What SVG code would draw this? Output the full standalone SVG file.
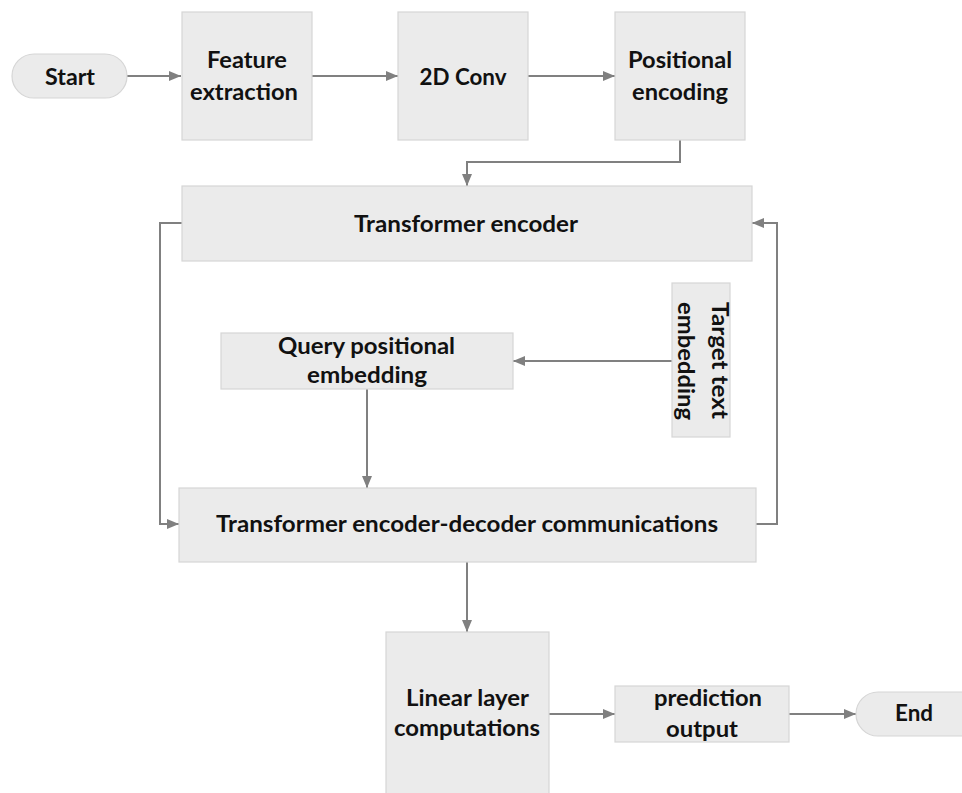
<svg xmlns="http://www.w3.org/2000/svg" width="962" height="793" viewBox="0 0 962 793">
<defs>
<style>
.box{fill:#ebebeb;stroke:#d6d6d6;stroke-width:1.2}
.t{font-family:Lato,"Open Sans","Liberation Sans",sans-serif;font-weight:bold;font-size:23px;fill:#111;text-anchor:middle}
.c{fill:none;stroke:#808080;stroke-width:2}
</style>
<marker id="ah" markerUnits="userSpaceOnUse" markerWidth="12" markerHeight="10" refX="12" refY="5" orient="auto">
<path d="M0,0 L12,5 L0,10 z" fill="#808080"/>
</marker>
</defs>
<rect width="962" height="793" fill="#ffffff"/>
<g id="connectors">
<path class="c" d="M127,76 H181" marker-end="url(#ah)"/>
<path class="c" d="M312,76 H398" marker-end="url(#ah)"/>
<path class="c" d="M528,76 H615" marker-end="url(#ah)"/>
<path class="c" d="M680,140 V162 H467 V186" marker-end="url(#ah)"/>
<path class="c" d="M182,223 H160 V524 H179" marker-end="url(#ah)"/>
<path class="c" d="M756,524 H777 V223 H752" marker-end="url(#ah)"/>
<path class="c" d="M672,361 H513" marker-end="url(#ah)"/>
<path class="c" d="M367,389 V488" marker-end="url(#ah)"/>
<path class="c" d="M467,562 V632" marker-end="url(#ah)"/>
<path class="c" d="M549,714 H615" marker-end="url(#ah)"/>
<path class="c" d="M789,714 H856" marker-end="url(#ah)"/>
</g>
<g id="start">
<rect class="box" x="12" y="54" width="115" height="44" rx="22"/>
<text class="t" x="70" y="85" textLength="50" lengthAdjust="spacingAndGlyphs">Start</text>
</g>
<g id="feature">
<rect class="box" x="182" y="12" width="130" height="128"/>
<text class="t" x="247" y="68" textLength="80" lengthAdjust="spacingAndGlyphs">Feature</text>
<text class="t" x="244" y="100" textLength="108" lengthAdjust="spacingAndGlyphs">extraction</text>
</g>
<g id="conv">
<rect class="box" x="398" y="12" width="130" height="128"/>
<text class="t" x="463" y="85" textLength="87" lengthAdjust="spacingAndGlyphs">2D Conv</text>
</g>
<g id="posenc">
<rect class="box" x="615" y="12" width="130" height="128"/>
<text class="t" x="680" y="68" textLength="104" lengthAdjust="spacingAndGlyphs">Positional</text>
<text class="t" x="680" y="100" textLength="96" lengthAdjust="spacingAndGlyphs">encoding</text>
</g>
<g id="encoder">
<rect class="box" x="182" y="186" width="570" height="75"/>
<text class="t" x="466" y="232" textLength="224" lengthAdjust="spacingAndGlyphs">Transformer encoder</text>
</g>
<g id="query">
<rect class="box" x="221" y="333" width="292" height="56"/>
<text class="t" x="366.5" y="354" textLength="177" lengthAdjust="spacingAndGlyphs">Query positional</text>
<text class="t" x="367" y="383" textLength="120" lengthAdjust="spacingAndGlyphs">embedding</text>
</g>
<g id="target">
<rect class="box" x="672" y="283" width="58" height="154"/>
<text class="t" transform="translate(712,360.5) rotate(90)" x="0" y="0" textLength="117" lengthAdjust="spacingAndGlyphs">Target text</text>
<text class="t" transform="translate(678,361) rotate(90)" x="0" y="0" textLength="118" lengthAdjust="spacingAndGlyphs">embedding</text>
</g>
<g id="encdec">
<rect class="box" x="179" y="488" width="577" height="74"/>
<text class="t" x="467" y="532" textLength="502" lengthAdjust="spacingAndGlyphs">Transformer encoder-decoder communications</text>
</g>
<g id="linear">
<rect class="box" x="386" y="632" width="163" height="170"/>
<text class="t" x="467.5" y="706" textLength="123" lengthAdjust="spacingAndGlyphs">Linear layer</text>
<text class="t" x="467" y="736" textLength="146" lengthAdjust="spacingAndGlyphs">computations</text>
</g>
<g id="prediction">
<rect class="box" x="615" y="686" width="174" height="56"/>
<text class="t" x="708" y="706" textLength="108" lengthAdjust="spacingAndGlyphs">prediction</text>
<text class="t" x="702" y="737" textLength="72" lengthAdjust="spacingAndGlyphs">output</text>
</g>
<g id="end">
<rect class="box" x="856" y="692" width="130" height="44" rx="22"/>
<text class="t" x="914" y="721" textLength="38" lengthAdjust="spacingAndGlyphs">End</text>
</g>
</svg>
